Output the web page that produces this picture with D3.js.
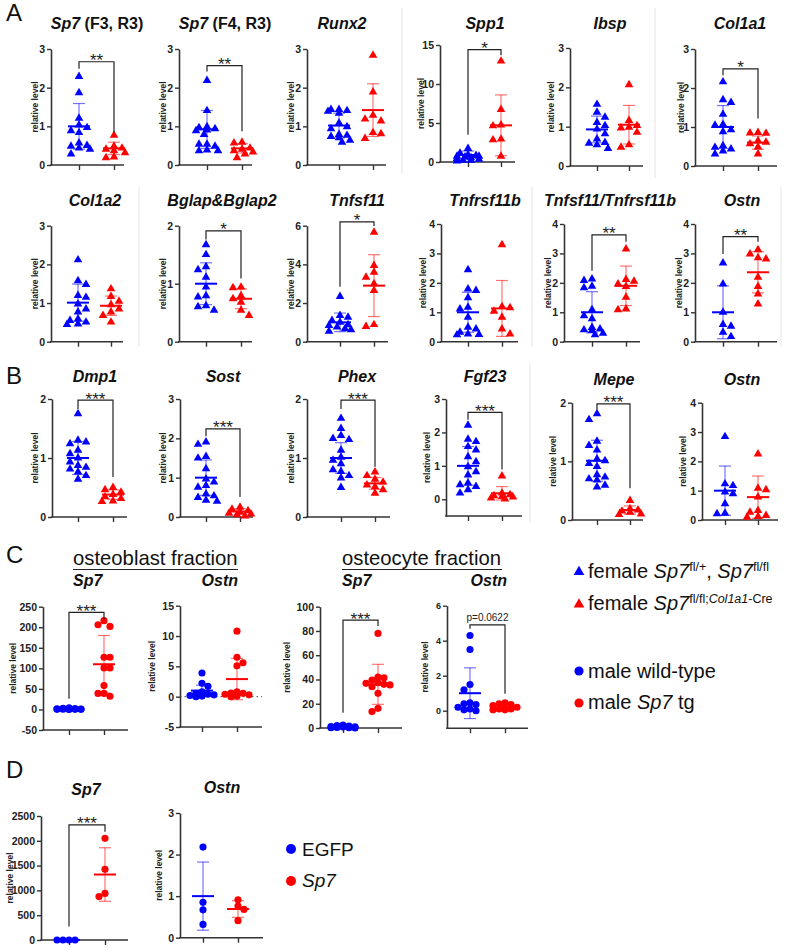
<!DOCTYPE html>
<html><head><meta charset="utf-8">
<script src="https://cdn.jsdelivr.net/npm/d3@7"></script>
<style>
body{margin:0;background:#fff}
svg{display:block}
text{font-family:"Liberation Sans",Arial,Helvetica,sans-serif}
</style>
</head><body>
<svg id="c" width="789" height="951"></svg>
<script>
// ================= DATA =================
const genes = ["Sp7","Sp7","Runx2","Spp1","Ibsp","Col1a1",
  "Col1a2","Bglap&Bglap2","Tnfsf11","Tnfrsf11b","Tnfsf11/Tnfrsf11b","Ostn",
  "Dmp1","Sost","Phex","Fgf23","Mepe","Ostn",
  "Sp7","Ostn","Sp7","Ostn",
  "Sp7","Ostn"];
const titleSuffix = [" (F3, R3)"," (F4, R3)","","","","", "","","","","","", "","","","","","", "","","","", "",""];
const markerType = ["tri","tri","tri","tri","tri","tri","tri","tri","tri","tri","tri","tri",
  "tri","tri","tri","tri","tri","tri","dot","dot","dot","dot","dot","dot"];

const blueValues = [
  [2.3,1.88,1.22,1.05,0.98,0.9,0.85,0.58,0.52,0.5,0.45,0.42,0.3],
  [2.2,1.42,1.0,0.98,0.95,0.92,0.9,0.8,0.55,0.55,0.5,0.4,0.38,0.38],
  [1.45,1.45,1.42,1.4,1.35,1.1,1.0,0.95,0.8,0.78,0.75,0.72,0.65,0.6],
  [1.8,1.2,1.0,0.9,0.8,0.8,0.7,0.6,0.5,0.4,0.3,0.3,0.2],
  [1.58,1.38,1.25,1.12,1.04,0.95,0.83,0.7,0.61,0.59,0.55,0.46],
  [2.17,1.71,1.64,1.34,1.08,1.06,0.94,0.89,0.53,0.49,0.45,0.4,0.32],
  [2.13,1.59,1.49,1.21,1.16,0.99,0.86,0.78,0.6,0.56,0.52,0.47,0.46],
  [1.68,1.51,1.3,1.25,1.12,0.95,0.8,0.78,0.63,0.61,0.55],
  [2.36,1.38,1.29,1.12,1.03,0.9,0.86,0.78,0.7,0.64,0.57],
  [2.46,1.81,1.76,1.51,1.19,1.13,0.85,0.51,0.45,0.34,0.28,0.26,0.25],
  [2.15,2.1,1.9,1.85,1.1,0.9,0.8,0.5,0.45,0.42,0.4,0.3,0.25],
  [2.69,1.98,1.02,0.6,0.54,0.34,0.19],
  [1.76,1.31,1.28,1.25,1.14,1.08,1.01,0.94,0.88,0.85,0.82,0.77,0.71,0.65],
  [1.92,1.86,1.55,1.51,1.24,0.98,0.9,0.81,0.77,0.6,0.55,0.51,0.44,0.41],
  [1.68,1.51,1.39,1.34,1.32,1.14,1.02,0.97,0.91,0.81,0.78,0.71,0.67,0.51],
  [2.23,1.81,1.74,1.59,1.49,1.29,1.14,0.99,0.84,0.74,0.5,0.45,0.4,0.3,0.2],
  [1.82,1.72,1.35,1.28,1.2,1.05,1.02,0.97,0.92,0.78,0.74,0.71,0.69,0.6,0.57],
  [2.86,1.25,1.19,0.97,0.91,0.57,0.25,0.23],
  [4,3,2,1.5,1,0.8,0.5,0.3,0.2,0.2,0.1],
  [3.9,2.2,1.7,0.8,0.55,0.4,0.3,0.2,0.1,0.0],
  [2.5,2,1.5,1.2,1,0.8,0.5,0.3,0.2,0.1],
  [4.3,3.5,1.5,1.2,0.45,0.4,0.35,0.2,0.1,0.05,0.0],
  [1,1,1,1],
  [2.18,0.85,0.67,0.32]
];
const redValues = [
  [0.78,0.5,0.45,0.42,0.38,0.33,0.22,0.2],
  [0.6,0.58,0.45,0.42,0.38,0.35,0.3,0.2],
  [2.85,1.9,1.3,1.2,1.15,0.85,0.82,0.7],
  [13.0,6.8,4.8,4.7,3.0,2.9,0.8],
  [2.08,1.17,1.04,1.0,0.98,0.87,0.55,0.49],
  [0.87,0.86,0.85,0.66,0.62,0.58,0.5,0.32],
  [1.38,1.18,1.06,0.97,0.86,0.78,0.69,0.52],
  [0.95,0.94,0.8,0.75,0.69,0.55,0.46],
  [5.69,3.97,3.62,3.36,3.02,2.67,0.91,0.81],
  [3.31,1.21,1.17,1.05,0.85,0.45,0.28],
  [3.17,2.13,2.07,1.98,1.89,1.53,1.13,1.1],
  [3.14,3.0,2.87,2.83,2.21,1.89,1.64,1.3],
  [0.51,0.47,0.43,0.39,0.35,0.32,0.28,0.27],
  [0.26,0.21,0.17,0.14,0.11,0.09,0.07,0.04],
  [0.77,0.71,0.65,0.6,0.55,0.52,0.47,0.41],
  [0.71,0.2,0.15,0.12,0.1,0.08,0.05,0.02],
  [0.34,0.2,0.18,0.16,0.14,0.11,0.1],
  [2.27,1.1,1.05,0.8,0.34,0.28,0.17,0.14,0.11],
  [216,206,202,127,127,101,101,58,39,39,32],
  [10.8,6.5,5.6,5.1,0.8,0.6,0.55,0.4,0.3,0.1,0.0],
  [78,41.9,41.4,39.5,37.3,36.8,36,35.5,34,28.6,16.2,13.5],
  [0.45,0.4,0.35,0.3,0.2,0.15,0.1,0.1,0.05,0.05],
  [2050,1425,940,875],
  [0.91,0.76,0.68,0.41]
];
// [mean, sd]
const blueMeanSD = [[1.0,0.59],[0.92,0.49],[1.02,0.32],[0.9,0.5],[0.93,0.34],[1.0,0.55],
  [1.01,0.48],[1.0,0.36],[1.0,0.48],[1.0,0.68],[1.0,0.7],[1.0,0.9],
  [1.0,0.28],[1.0,0.45],[1.0,0.26],[1.0,0.58],[1.01,0.35],[1.0,0.84],
  [1.0,1.0],[1.0,0.9],[1.0,0.8],[1.0,1.45],[1,0.5],[1.0,0.82]];
const redMeanSD = [[0.43,0.16],[0.43,0.12],[1.42,0.68],[4.7,3.9],[1.05,0.49],[0.6,0.17],
  [0.93,0.25],[0.74,0.17],[2.9,1.6],[1.13,0.95],[1.9,0.67],[2.36,0.7],
  [0.38,0.08],[0.14,0.07],[0.57,0.1],[0.18,0.2],[0.17,0.07],[0.78,0.72],
  [110,70],[2.9,3.4],[36,16.5],[0.17,0.13],[1320,540],[0.69,0.2]];
const yDomains = [[0,3],[0,3],[0,3],[0,15],[0,3],[0,3],
  [0,3],[0,2],[0,6],[0,4],[0,4],[0,4],
  [0,2],[0,3],[0,2],[-0.5,3],[0,2],[0,4],
  [-50,250],[-5,15],[0,100],[-1,6],[0,2500],[0,3]];
const yTicks = [[0,1,2,3],[0,1,2,3],[0,1,2,3],[0,5,10,15],[0,1,2,3],[0,1,2,3],
  [0,1,2,3],[0,1,2],[0,2,4,6],[0,1,2,3,4],[0,1,2,3,4],[0,1,2,3,4],
  [0,1,2],[0,1,2,3],[0,1,2],[0,1,2,3],[0,1,2],[0,1,2,3,4],
  [-50,0,50,100,150,200,250],[-5,0,5,10,15],[0,20,40,60,80,100],[0,2,4,6],
  [0,500,1000,1500,2000,2500],[0,1,2,3]];
// significance: [bracket top, blue-side end, red-side end] in data units
const sigLabels = ["**","**","","*","","*", "","*","*","","**","**", "***","***","***","***","***","",
  "***","","***","p=0.0622","***",""];
const sigBrackets = [[2.67,2.49,0.85],[2.57,2.42,0.87],null,[14.4,3.5,13.7],null,[2.49,2.33,1.22],
  null,[1.91,1.76,1.09],[6.2,2.84,5.98],null,[3.63,2.41,3.4],[3.57,2.98,3.4],
  [1.98,1.83,0.68],[2.24,2.05,0.51],[1.98,1.83,0.85],[2.6,2.38,0.89],[1.98,1.88,0.54],null,
  [236,26,219],null,[89,12.6,84],[4.9,4.69,0.97],[2320,270,2180],null];
const panelLetters = ["A","B","C","D"];
const fractionLabels = ["osteoblast fraction","osteocyte fraction"];
const legendLabelsC = [["female ","Sp7","fl/+",", ","Sp7","fl/fl"],["female ","Sp7","fl/fl;","Col1a1","-Cre"],["male wild-type"],["male ","Sp7"," tg"]];
const legendLabelsD = ["EGFP","Sp7"];

// ================= LAYOUT (positions only) =================
// [axisX, x1, x2, xEnd, yTop, yBot, titleX, titleY, labelX, anchor, tickFont]
const layout = [
  [51,79,114,124,49,165,97,29,35.5,"middle",10.5],
  [179,207,242,252,49,165,225,29,163,"middle",10.5],
  [307,339,373,386,49,165,342,29,291,"middle",10.5],
  [440,468,501,515,45,162,485,29,421,"middle",10.5],
  [570,597,629,643,48,166,610,29,551,"middle",10.5],
  [695,723,758,777,49,166,740,29,681,"middle",10.5],
  [51,78,111,123,225.7,341.7,95,206,35,"middle",10.5],
  [179,206,241,252,225.7,341.7,222,206,163,"middle",10.5],
  [307,340,374,388,225.7,341.7,357,206,291,"middle",10.5],
  [441,468,502,518,224,341.7,485,206,423,"middle",10.5],
  [564,592,626,640,224,341.7,610,206,548,"middle",10.5],
  [695,723,758,777,224,341.7,742,206,679,"middle",10.5],
  [52,78,113,127,399,517,95,382,35.5,"middle",10.5],
  [180,206,240,253,399,517,223,382,163.5,"middle",10.5],
  [307,341,375,390,399,517,357,382,291.5,"middle",10.5],
  [446,468,502,522,399,516,485,382,427,"middle",10.5],
  [572,597,630,643,402.7,520,614,385,553,"middle",10.5],
  [702,725,758,778,402.7,520,742,385,683,"middle",10.5],
  [43,69,104,128,606.7,730,73,586,13,"start",10.5],
  [180,202,237,262,605.7,727,238,586,152,"end",10.5],
  [320,343,378,402,606.7,728,342,586,287,"start",10.5],
  [447,470,505,528,605.7,728.2,507,586,425,"end",9],
  [41,69,105,128,816,940,86,795,10,"middle",10.5],
  [180,203,238,263,813,937.7,222,793,159,"middle",10.5]
];
const BLUE = "#0000ff", RED = "#ff0000", AXIS = "#333333";
const FONT = '"Liberation Sans",Arial,Helvetica,sans-serif';

const svg = d3.select("#c");
svg.append("rect").attr("width",789).attr("height",951).attr("fill","#fff");

// faint panel separators
const seps = [[402,8,174],[655,8,178],[139,187,347],[532,187,347],[781,187,347],[530,363,523]];
svg.selectAll("line.sep").data(seps).join("line").attr("class","sep")
  .attr("x1",d=>d[0]).attr("x2",d=>d[0]).attr("y1",d=>d[1]).attr("y2",d=>d[2])
  .attr("stroke","#e4e4e4").attr("stroke-width",1);

// panel letters
const letterPos = [[6,21],[6,384],[6,563],[6,778]];
svg.selectAll("text.letter").data(panelLetters).join("text").attr("class","letter")
  .attr("x",(d,i)=>letterPos[i][0]).attr("y",(d,i)=>letterPos[i][1])
  .attr("font-size",24).attr("fill","#111").text(d=>d);

// compact beeswarm placement: minimise overlap within +/- maxOff of the group centre
function dodge(vals, y, cx, w, h, maxOff) {
  const idx = vals.map((v,i)=>i).sort((a,b)=>vals[b]-vals[a]);
  const placed = [];
  const out = new Array(vals.length);
  idx.forEach((i,n) => {
    const py = y(vals[i]);
    let best = null, bestCost = Infinity;
    const sgn = n%2===0 ? 1 : -1;
    for (let k=0;k<=2*maxOff;k++){
      const off = (k===0?0:(k%2===1?sgn:-sgn)*Math.ceil(k/2));
      const px = cx+off;
      let cost = 0;
      placed.forEach(p => {
        const ox = Math.max(0, w - Math.abs(p[0]-px));
        const oy = Math.max(0, h - Math.abs(p[1]-py));
        cost += ox*oy;
      });
      cost += Math.abs(off)*0.9;
      if (cost < bestCost-1e-9){ bestCost = cost; best = [px,py]; }
    }
    placed.push(best); out[i]=best;
  });
  return out;
}

genes.forEach((gene,i) => {
  const L = layout[i];
  const [axX,x1,x2,xEnd,yTop,yBot,tx,ty,lx,anchor,tf] = L;
  const y = d3.scaleLinear().domain(yDomains[i]).range([yBot,yTop]);
  const xs = d3.scalePoint().domain(["ctrl","test"]).range([x1,x2]);
  const g = svg.append("g");

  // title
  const t = g.append("text").attr("x",tx).attr("y",ty).attr("text-anchor",anchor)
    .attr("font-size",16).attr("font-weight","bold").attr("fill","#111");
  t.append("tspan").attr("font-style","italic").text(gene);
  if (titleSuffix[i]) t.append("tspan").text(titleSuffix[i]);

  // y axis
  const ya = g.append("g").attr("transform",`translate(${axX},0)`)
    .call(d3.axisLeft(y).tickValues(yTicks[i]).tickSize(4).tickSizeOuter(0).tickPadding(2).tickFormat(d=>String(d)));
  ya.select(".domain").attr("stroke",AXIS).attr("stroke-width",1.6);
  ya.selectAll(".tick line").attr("stroke",AXIS).attr("stroke-width",1.4);
  ya.selectAll(".tick text").attr("font-family",FONT).attr("font-weight","bold").attr("font-size",tf).attr("fill","#222");

  // x axis
  g.append("line").attr("x1",axX-0.8).attr("x2",xEnd).attr("y1",yBot).attr("y2",yBot)
    .attr("stroke",AXIS).attr("stroke-width",1.6);
  const xa = g.append("g").attr("transform",`translate(0,${yBot})`)
    .call(d3.axisBottom(xs).tickSize(5).tickSizeOuter(0).tickFormat(""));
  xa.select(".domain").remove();
  xa.selectAll(".tick line").attr("stroke",AXIS).attr("stroke-width",1.4);

  // y label
  g.append("text").attr("transform",`translate(${lx},${(yTop+yBot)/2}) rotate(-90)`)
    .attr("text-anchor","middle").attr("dy","0.35em").attr("font-size",8.5)
    .attr("font-weight","bold").attr("fill","#222").text("relative level");

  // dotted zero line
  if (i===19) {
    g.append("line").attr("x1",axX).attr("x2",xEnd).attr("y1",y(0)).attr("y2",y(0))
      .attr("stroke","#444").attr("stroke-width",1).attr("stroke-dasharray","1.5,3");
  }

  // groups
  const groups = [["ctrl",blueValues[i],blueMeanSD[i],BLUE],["test",redValues[i],redMeanSD[i],RED]];
  groups.forEach(([key,vals,ms,col]) => {
    const cx = xs(key);
    const tri = markerType[i]==="tri";
    const pos = tri ? dodge(vals,y,cx,8,7,11) : dodge(vals,y,cx,6,7,12);
    const sym = d3.symbol().type(tri?d3.symbolTriangle:d3.symbolCircle).size(tri?32:40);
    g.selectAll(null).data(pos).join("path")
      .attr("d",sym).attr("transform",d=>`translate(${d[0]},${d[1]+(tri?0.5:0)})`)
      .attr("fill",col);
    const [m,sd] = ms;
    g.append("line").attr("x1",cx).attr("x2",cx).attr("y1",y(m-sd)).attr("y2",y(m+sd))
      .attr("stroke",col).attr("stroke-opacity",0.55).attr("stroke-width",1.2);
    [m-sd,m+sd].forEach(v => g.append("line").attr("x1",cx-6).attr("x2",cx+6)
      .attr("y1",y(v)).attr("y2",y(v)).attr("stroke",col).attr("stroke-opacity",0.55).attr("stroke-width",1.2));
    g.append("line").attr("x1",cx-11).attr("x2",cx+11).attr("y1",y(m)).attr("y2",y(m))
      .attr("stroke",col).attr("stroke-width",2);
  });

  // significance bracket
  const b = sigBrackets[i];
  if (b) {
    g.append("path").attr("d",`M${x1},${y(b[1])}V${y(b[0])}H${x2}V${y(b[2])}`)
      .attr("fill","none").attr("stroke","#222").attr("stroke-width",1.2);
    const isP = sigLabels[i].startsWith("p");
    g.append("text").attr("x",(x1+x2)/2).attr("y",isP ? y(b[0])-4 : y(b[0])+4.5)
      .attr("text-anchor","middle").attr("font-size",isP?10:17).attr("fill","#222")
      .text(sigLabels[i]);
  }
});

// Panel C fraction headers
const fracPos = [[73,238],[342,502]];
fractionLabels.forEach((lab,k) => {
  svg.append("text").attr("x",fracPos[k][0]).attr("y",565).attr("font-size",20.3).attr("fill","#111").text(lab);
  svg.append("line").attr("x1",fracPos[k][0]).attr("x2",fracPos[k][1]).attr("y1",569.5).attr("y2",569.5)
    .attr("stroke","#222").attr("stroke-width",1.2);
});

// Panel C legend
const legC = [[579,572,"tri",BLUE,578],[579,604.5,"tri",RED,610],[579,671,"dot",BLUE,677.5],[579,703,"dot",RED,709]];
legendLabelsC.forEach((parts,k) => {
  const [mx,my,mt,col,by] = legC[k];
  svg.append("path").attr("d",d3.symbol().type(mt==="tri"?d3.symbolTriangle:d3.symbolCircle).size(mt==="tri"?50:66))
    .attr("transform",`translate(${mx},${my})`).attr("fill",col);
  const t = svg.append("text").attr("x",588).attr("y",by).attr("font-size",20).attr("fill","#111");
  const sup = 12.5, dy = 7;
  if (k===0) {
    t.append("tspan").text(parts[0]);
    t.append("tspan").attr("font-style","italic").text(parts[1]);
    t.append("tspan").attr("font-size",sup).attr("dy",-dy).text(parts[2]);
    t.append("tspan").attr("dy",dy).text(parts[3]);
    t.append("tspan").attr("font-style","italic").text(parts[4]);
    t.append("tspan").attr("font-size",sup).attr("dy",-dy).text(parts[5]);
  } else if (k===1) {
    t.append("tspan").text(parts[0]);
    t.append("tspan").attr("font-style","italic").text(parts[1]);
    t.append("tspan").attr("font-size",sup).attr("dy",-dy).text(parts[2]);
    t.append("tspan").attr("font-size",sup).attr("font-style","italic").text(parts[3]);
    t.append("tspan").attr("font-size",sup).text(parts[4]);
  } else if (k===2) {
    t.append("tspan").text(parts[0]);
  } else {
    t.append("tspan").text(parts[0]);
    t.append("tspan").attr("font-style","italic").text(parts[1]);
    t.append("tspan").text(parts[2]);
  }
});

// Panel D legend
const legD = [[291,849,BLUE,856],[291,881,RED,887]];
legendLabelsD.forEach((lab,k) => {
  const [mx,my,col,by] = legD[k];
  svg.append("circle").attr("cx",mx).attr("cy",my).attr("r",5).attr("fill",col);
  svg.append("text").attr("x",302).attr("y",by).attr("font-size",19).attr("fill","#111")
    .attr("font-style",k===1?"italic":"normal").text(lab);
});
</script>
</body></html>
